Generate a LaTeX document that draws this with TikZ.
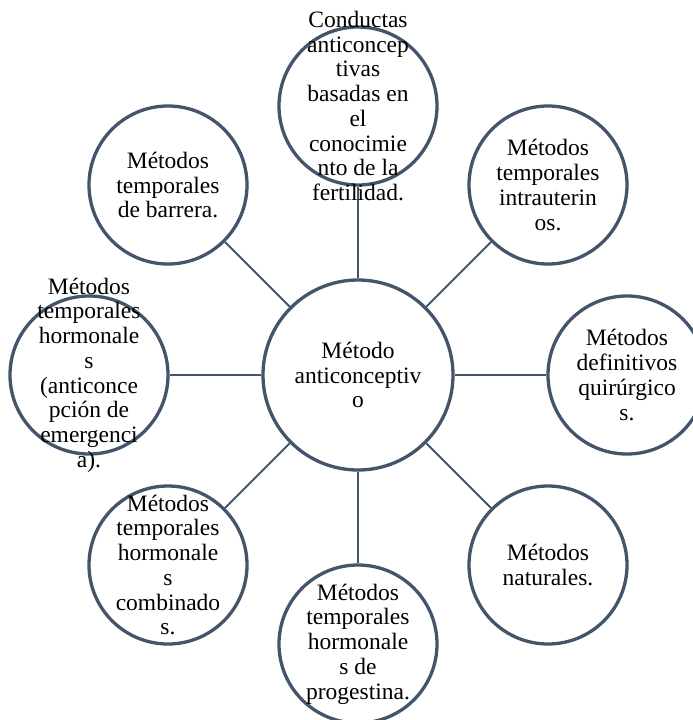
\documentclass[tikz,border=0pt]{standalone}
\usepackage{fontspec}
\setmainfont{Liberation Serif}
\definecolor{ring}{HTML}{44546A}
\tikzset{
  hubring/.style={circle, draw=ring, line width=3.3pt, fill=white, inner sep=0pt, minimum size=190pt},
  outring/.style={circle, draw=ring, line width=3.3pt, fill=white, inner sep=0pt, minimum size=158pt},
  lbl/.style={align=center, inner sep=0pt, font=\fontsize{23.5}{24.7}\selectfont},
  spoke/.style={draw=ring, line width=2pt}
}
\begin{document}
\begin{tikzpicture}[x=1pt,y=-1pt]
\useasboundingbox (0,0) rectangle (693,720);
\node[hubring] (c) at (358,375) {};
\node[outring] (n1) at (358,106) {};
\node[outring] (n2) at (548,185) {};
\node[outring] (n3) at (627,375) {};
\node[outring] (n4) at (548,565) {};
\node[outring] (n5) at (358,644) {};
\node[outring] (n6) at (168,565) {};
\node[outring] (n7) at (89,375) {};
\node[outring] (n8) at (168,185) {};
\foreach \n in {n1,n2,n3,n4,n5,n6,n7,n8} {\draw[spoke] (c) -- (\n);}
\node[lbl] (tc) at (c) {Método\\anticonceptiv\\o};
\node[lbl] (t1) at (n1) {Conductas\\anticoncep\\tivas\\basadas en\\el\\conocimie\\nto de la\\fertilidad.};
\node[lbl] (t2) at (n2) {Métodos\\temporales\\intrauterin\\os.};
\node[lbl] (t3) at (n3) {Métodos\\definitivos\\quirúrgico\\s.};
\node[lbl] (t4) at (n4) {Métodos\\naturales.};
\node[lbl] (t5) at (n5) {Métodos\\temporales\\hormonale\\s de\\progestina.};
\node[lbl] (t6) at (n6) {Métodos\\temporales\\hormonale\\s\\combinado\\s.};
\node[lbl] (t7) at (n7) {Métodos\\temporales\\hormonale\\s\\(anticonce\\pción de\\emergenci\\a).};
\node[lbl] (t8) at (n8) {Métodos\\temporales\\de barrera.};
\end{tikzpicture}
\end{document}
